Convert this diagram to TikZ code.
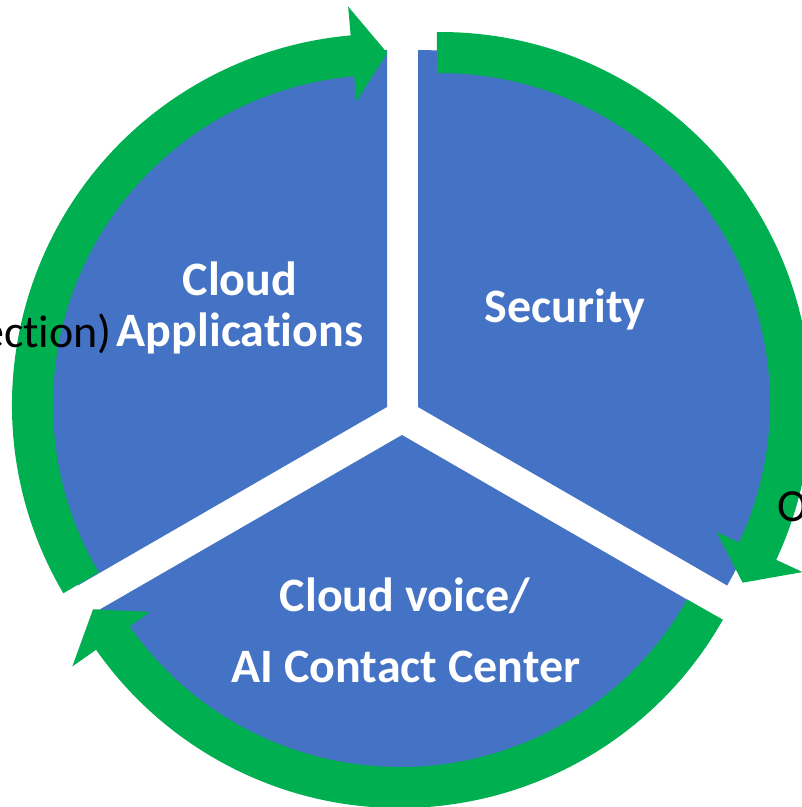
\documentclass[tikz,border=0pt]{standalone}
\usepackage{fontspec}
\setmainfont{Carlito}[Ligatures=NoCommon]
\definecolor{sectorblue}{HTML}{4472C4}
\definecolor{ringgreen}{HTML}{00B050}
\tikzset{
  sector/.style={fill=sectorblue},
  ring/.style={fill=ringgreen},
  title/.style={text=white, font=\fontsize{48}{56}\selectfont\bfseries, anchor=base, inner sep=0pt},
  side/.style={text=black, font=\fontsize{46}{54}\selectfont, inner sep=0pt}
}

\begin{document}
\begin{tikzpicture}[x=1pt, y=1pt]
  \useasboundingbox (0,0) rectangle (802,807);
  \fill[sector] (387,400) -- ++(90:357pt) arc[start angle=90, end angle=210, radius=357pt] -- cycle;
  \fill[sector] (418,400) -- ++(-30:357pt) arc[start angle=-30, end angle=90, radius=357pt] -- cycle;
  \fill[sector] (402,372) -- ++(210:357pt) arc[start angle=210, end angle=330, radius=357pt] -- cycle;
  \begin{scope}[shift={(383,402)}]
    \fill[ring] (210.5:371pt) arc[start angle=210.5, end angle=95, radius=371pt] -- (95:400pt) -- (89.3:352pt) -- (95:305pt) -- (95:330pt) arc[start angle=95, end angle=210.5, radius=330pt] -- cycle;
  \end{scope}
  \begin{scope}[shift={(440,404)}]
    \fill[ring] (90.5:371pt) arc[start angle=90.5, end angle=-25, radius=371pt] -- (-25:400pt) -- (-30.7:352pt) -- (-25:305pt) -- (-25:330pt) arc[start angle=-25, end angle=90.5, radius=330pt] -- cycle;
  \end{scope}
  \begin{scope}[shift={(400,370)}]
    \fill[ring] (-29.5:371pt) arc[start angle=-29.5, end angle=-145, radius=371pt] -- (-145:400pt) -- (-150.7:352pt) -- (-145:305pt) -- (-145:330pt) arc[start angle=-145, end angle=-29.5, radius=330pt] -- cycle;
  \end{scope}
  \node[title] (cloud) at (240,511) {Cloud};
  \node[title] (apps) at (240,460) {Applications};
  \node[title] (security) at (565,484) {Security};
  \node[title] (voice) at (405,195) {Cloud voice/};
  \node[title] (contact) at (406,124) {AI Contact Center};
  \node[side, anchor=base east] (leftcut) at (112,459) {ection)};
  \node[side, anchor=base west] (rightcut) at (777,285) {O};
\end{tikzpicture}
\end{document}
